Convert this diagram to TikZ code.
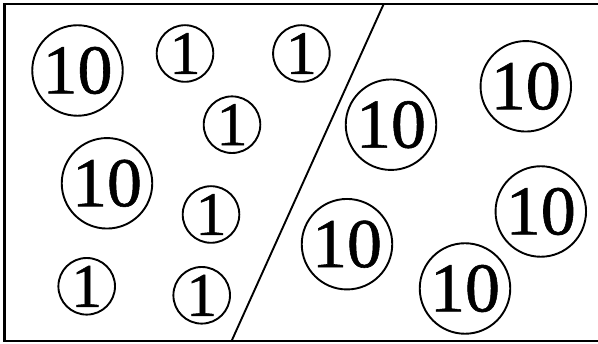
\documentclass[tikz,border=0pt]{standalone}
\usepackage{fontspec}
\setmainfont{Liberation Serif}
\newfontfamily\digfont[FakeBold=0.8]{Liberation Serif}
\begin{document}
\begin{tikzpicture}[x=1pt,y=-1pt,
  ten/.style={circle,draw,line width=1.9pt,minimum size=90.5pt,inner sep=0pt,font=\digfont\fontsize{70}{70}\selectfont},
  one/.style={circle,draw,line width=1.9pt,minimum size=56.6pt,inner sep=0pt,font=\digfont\fontsize{62}{62}\selectfont}]
\useasboundingbox (0,0) rectangle (598,344);
\draw[line width=2.2pt] (600,4) coordinate (tr) -- (4.5,4) coordinate (tl) -- (4.5,340.7) coordinate (bl) -- (600,340.7) coordinate (br);
\coordinate (dtop) at (383.7,4);
\coordinate (dbot) at (231.7,340.7);
\draw[line width=1.9pt] (dtop) -- (dbot);
\node[ten] (a1) at (77.5,70.5) {10};
\node[one] (b1) at (185,53.5) {1};
\node[one] (b2) at (301.4,53.5) {1};
\node[one] (b3) at (232,124.7) {1};
\node[ten] (a2) at (107,183.3) {10};
\node[one] (b4) at (211,214.5) {1};
\node[one] (b5) at (86.7,286.3) {1};
\node[one] (b6) at (201.7,295.3) {1};
\node[ten] (a3) at (391,124.7) {10};
\node[ten] (a4) at (525.8,86.3) {10};
\node[ten] (a5) at (347,244.2) {10};
\node[ten] (a6) at (540.8,211.5) {10};
\node[ten] (a7) at (465,288.5) {10};
\end{tikzpicture}
\end{document}
